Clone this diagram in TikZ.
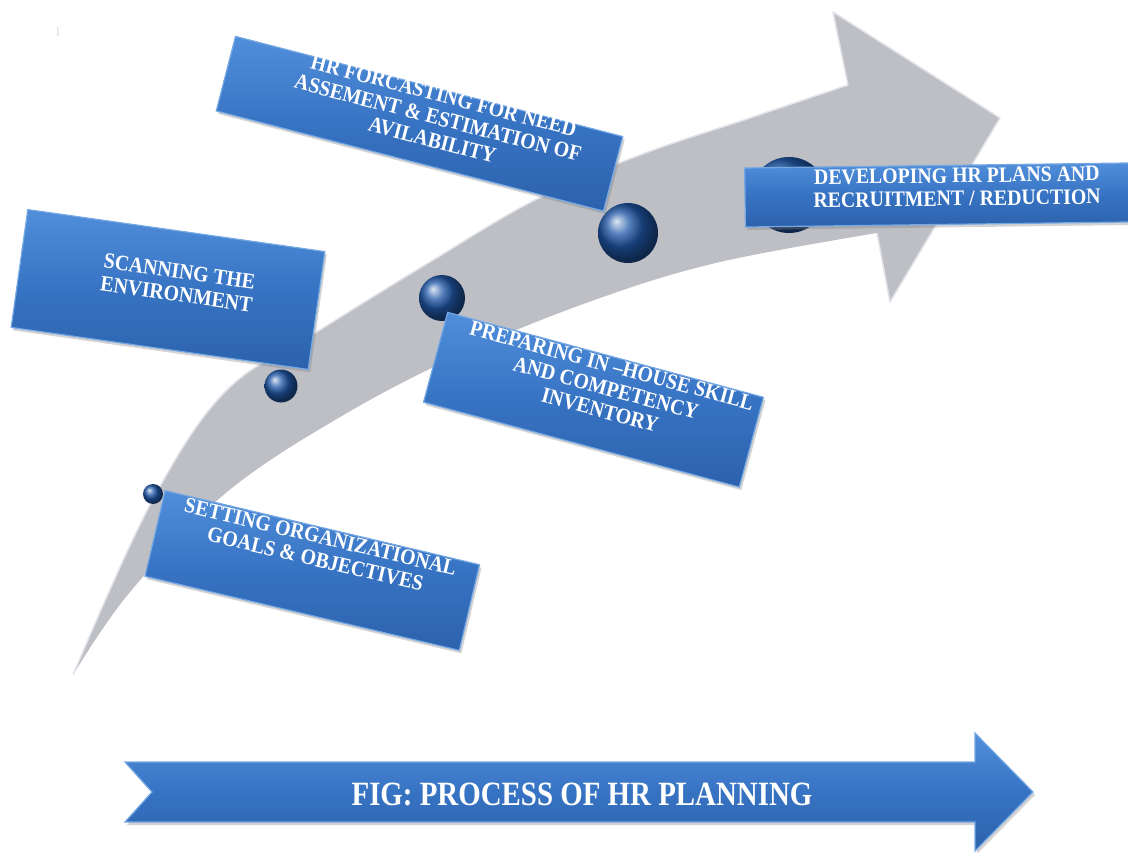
\documentclass[tikz,border=0pt]{standalone}
\usepackage{fontspec}
\setmainfont{Liberation Serif}
\newfontfamily\boxfont[FakeStretch=0.9]{Liberation Serif}
\newfontfamily\titlefont[FakeStretch=0.85]{Liberation Serif}
\usetikzlibrary{shadows}
\definecolor{arrowgrey}{RGB}{189,191,197}
\definecolor{arrowedge}{RGB}{225,227,232}
\definecolor{boxblue}{RGB}{55,115,195}
\definecolor{boxtop}{RGB}{80,142,218}
\definecolor{boxbot}{RGB}{44,98,172}
\definecolor{boxedge}{RGB}{118,168,228}
\definecolor{balldark}{RGB}{32,88,168}
\begin{document}
\begin{tikzpicture}[x=1pt,y=-1pt,
  stepbox/.style={draw=boxedge, line width=1.2pt, top color=boxtop, bottom color=boxbot, middle color=boxblue,
    drop shadow={opacity=0.35, shadow xshift=2pt, shadow yshift=-3pt}, inner sep=0pt},
  steptext/.style={text=white, align=center, font=\boxfont\bfseries\fontsize{22}{23}\selectfont, inner sep=0pt},
  ballnode/.style={circle, shading=ball, ball color=balldark, inner sep=0pt}]
\useasboundingbox (0,0) rectangle (1128,853);
% faint mark
\node[text=black!12, font=\fontsize{14}{14}\selectfont] (mark) at (58,32) {I};
% big grey arrow
\fill[arrowgrey] plot[smooth,tension=0.6] coordinates {(73,675) (150,505) (225,392) (320,330) (430,262) (535,200) (640,155) (750,118) (848,85)}
  -- (833,12) -- (1000,118) -- (890,302) -- (877,233)
  -- plot[smooth,tension=0.6] coordinates {(877,233) (720,262) (600,298) (470,350) (347,413) (227,492) (130,592) (73,675)} -- cycle;
\draw[arrowedge, line width=1.5pt] plot[smooth,tension=0.6] coordinates {(73,675) (150,505) (225,392) (320,330) (430,262) (535,200) (640,155) (750,118) (848,85)};
\draw[arrowedge, line width=1.5pt, line join=round] (848,85) -- (833,12) -- (1000,118) -- (890,302) -- (877,233);
% spheres
\node[ballnode, minimum size=20pt] (s1) at (153,494) {};
\node[ballnode, minimum size=33pt] (s2) at (281,386) {};
\node[ballnode, minimum size=46pt] (s3) at (442,298) {};
\node[ballnode, minimum size=60pt] (s4) at (628,233) {};
\node[ballnode, minimum size=76pt] (s5) at (789,195) {};
% boxes
\node[stepbox, rotate=-14.5, minimum width=400pt, minimum height=77pt] (b1) at (419.5,123.75) {};
\node[stepbox, rotate=-8.05, minimum width=300pt, minimum height=119pt] (b2) at (168,289.5) {};
\node[stepbox, rotate=-15.05, minimum width=327pt, minimum height=93pt] (b3) at (593.5,399.75) {};
\node[stepbox, rotate=-13.26, minimum width=323pt, minimum height=88pt] (b4) at (312.25,570.5) {};
\node[stepbox, rotate=0.75, minimum width=384pt, minimum height=59pt] (b5) at (937,195) {};
% texts
\node[steptext, rotate=-14.5] (t1) at (438,118) {HR FORCASTING FOR NEED\\ASSEMENT \& ESTIMATION OF\\AVILABILITY};
\node[steptext, rotate=-8.05] (t2) at (178,283) {SCANNING THE\\ENVIRONMENT};
\node[steptext, rotate=-15.05] (t3) at (606,388) {PREPARING IN –HOUSE SKILL\\AND COMPETENCY\\INVENTORY};
\node[steptext, rotate=-13.26] (t4) at (318,548) {SETTING ORGANIZATIONAL\\GOALS \& OBJECTIVES};
\node[steptext, rotate=0.75] (t5) at (957,187) {DEVELOPING HR PLANS AND\\RECRUITMENT / REDUCTION};
% bottom arrow
\shade[top color=boxtop, bottom color=boxbot, middle color=boxblue, draw=boxedge, line width=1.2pt,
  drop shadow={opacity=0.35, shadow xshift=2pt, shadow yshift=-3pt}]
  (125,762) -- (975,762) -- (975,733) -- (1033,792) -- (975,851) -- (975,822) -- (125,822) -- (152,792) -- cycle;
\node[text=white, font=\titlefont\bfseries\fontsize{34}{34}\selectfont] (title) at (582,794) {FIG: PROCESS OF HR PLANNING};
\end{tikzpicture}
\end{document}
